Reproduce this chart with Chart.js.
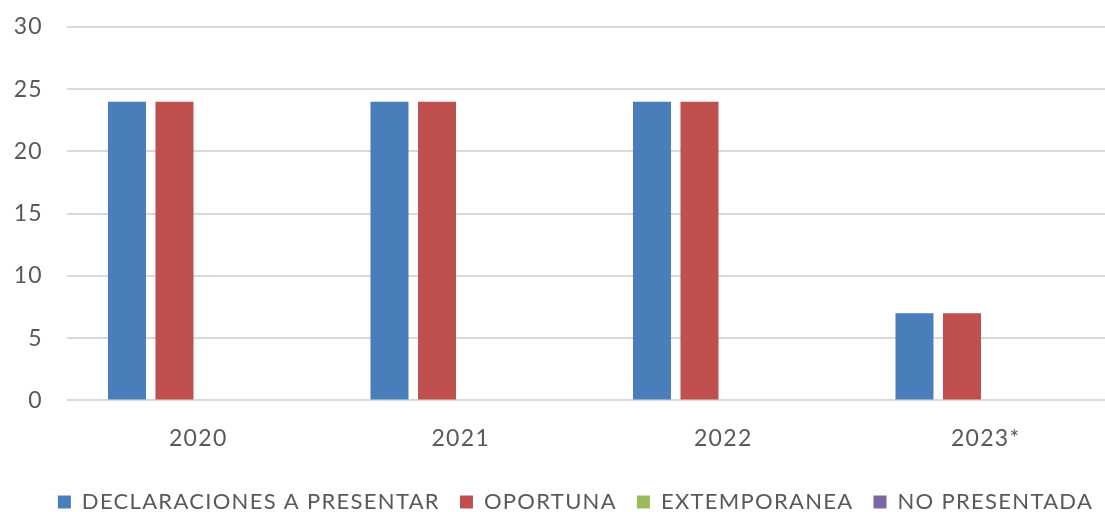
<!DOCTYPE html>
<html lang="es">
<head>
    <meta charset="UTF-8">
    <title>Declaraciones</title>
    <script src="https://cdn.jsdelivr.net/npm/chart.js"></script>
    <style>
        html, body { margin: 0; padding: 0; background: #fff; overflow: hidden; }
        #wrap { width: 1117px; height: 512px; }
    </style>
</head>
<body>
    <div id="wrap"><canvas id="declChart"></canvas></div>
    <script>
        const years = ['2020', '2021', '2022', '2023*'];
        const aPresentar = [24, 24, 24, 7];
        const oportuna = [24, 24, 24, 7];
        const extemporanea = [0, 0, 0, 0];
        const noPresentada = [0, 0, 0, 0];
        const yTicks = [0, 5, 10, 15, 20, 25, 30];

        const textGray = '#595959';
        const font = 'Lato, "Open Sans", sans-serif';

        function bars(label, data, color) {
            return {
                label: label,
                data: data,
                backgroundColor: color,
                borderWidth: 0,
                barPercentage: 0.8,
                categoryPercentage: 0.724
            };
        }

        // wider letter spacing for every label (canvas resize resets it, so set it each pass)
        const spacing = {
            id: 'spacing',
            beforeLayout(chart) { chart.ctx.letterSpacing = '1.3px'; },
            beforeDraw(chart) { chart.ctx.letterSpacing = '1.3px'; }
        };

        // nudge the legend row a bit right and down
        const legendShift = {
            id: 'legendShift',
            afterLayout(chart) {
                const lg = chart.legend;
                lg.left += 17; lg.right += 17;
                lg.top += 11; lg.bottom += 11;
            }
        };

        const ctx = document.getElementById('declChart').getContext('2d');
        new Chart(ctx, {
            type: 'bar',
            data: {
                labels: years,
                datasets: [
                    bars('DECLARACIONES A PRESENTAR', aPresentar, '#4a7ebb'),
                    bars('OPORTUNA', oportuna, '#c0504d'),
                    bars('EXTEMPORANEA', extemporanea, '#9bbb59'),
                    bars('NO PRESENTADA', noPresentada, '#8064a2')
                ]
            },
            plugins: [spacing, legendShift],
            options: {
                responsive: true,
                maintainAspectRatio: false,
                animation: false,
                layout: { padding: { left: 0, right: 0, top: 27, bottom: 0 } },
                plugins: {
                    tooltip: { enabled: false },
                    legend: {
                        position: 'bottom',
                        labels: {
                            boxWidth: 13,
                            boxHeight: 13,
                            padding: 20,
                            color: textGray,
                            font: { family: font, size: 22 }
                        }
                    }
                },
                scales: {
                    x: {
                        grid: { display: false },
                        border: { display: false },
                        afterFit: function (axis) {
                            axis.height -= 8;
                        },
                        ticks: {
                            color: textGray,
                            padding: 16,
                            font: { family: font, size: 23 }
                        }
                    },
                    y: {
                        min: 0,
                        max: 30,
                        afterBuildTicks: function (axis) {
                            axis.ticks = yTicks.map(v => ({ value: v }));
                        },
                        afterFit: function (axis) {
                            axis.width = 67;
                            axis.paddingTop = 0;
                            axis.paddingBottom = 0;
                        },
                        grid: { color: '#d9d9d9', lineWidth: 2, drawTicks: false },
                        border: { display: false },
                        ticks: {
                            color: textGray,
                            padding: 24,
                            font: { family: font, size: 23 }
                        }
                    }
                }
            }
        });
    </script>
</body>
</html>
